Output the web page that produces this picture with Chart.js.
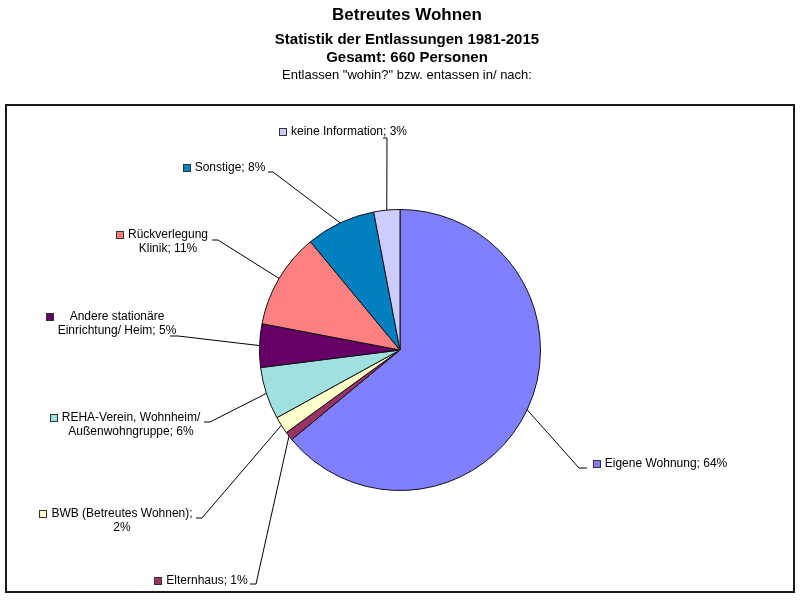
<!DOCTYPE html>
<html>
<head>
<meta charset="utf-8">
<script src="https://cdn.jsdelivr.net/npm/chart.js@4.4.1/dist/chart.umd.min.js"></script>
<style>
  body { margin: 0; background: #fff; }
  canvas { display: block; }
</style>
</head>
<body>
<canvas id="chart" width="802" height="600"></canvas>
<script>
// data (clockwise from 12 o'clock)
const categories = ['Eigene Wohnung', 'Elternhaus', 'BWB (Betreutes Wohnen)', 'REHA-Verein, Wohnheim/ Außenwohngruppe',
  'Andere stationäre Einrichtung/ Heim', 'Rückverlegung Klinik', 'Sonstige', 'keine Information'];
const shares = [64, 1, 2, 6, 5, 11, 8, 3];
const colours = ['#8080FF', '#993366', '#FFFFCC', '#A0E0E0', '#660066', '#FF8080', '#0080C0', '#CCCCFF'];

const titleLines = ['Betreutes Wohnen', 'Statistik der Entlassungen 1981-2015', 'Gesamt: 660 Personen',
  'Entlassen "wohin?" bzw. entassen in/ nach:'];

// where each slice label sits: centre x, first line y, words on first line, leader start + knee
const labelPos = [
  { cx: 666, y: 464, words: 0, start: [587, 468], knee: [579, 468] },
  { cx: 207, y: 581, words: 0, start: [250, 584], knee: [256, 584] },
  { cx: 122, y: 514, words: 3, start: [196, 518], knee: [202, 518] },
  { cx: 131, y: 418, words: 2, start: [204, 422], knee: [210, 422] },
  { cx: 117, y: 317, words: 2, start: [170, 336], knee: [178, 336] },
  { cx: 168, y: 235, words: 1, start: [212, 240], knee: [218, 240] },
  { cx: 230, y: 168, words: 0, start: [268, 172], knee: [273, 172] },
  { cx: 349, y: 132, words: 0, start: [383, 138], knee: [387, 138] }
];

function labelLines(i) {
  var full = categories[i] + '; ' + shares[i] + '%';
  var n = labelPos[i].words;
  if (!n) return [full];
  var parts = full.split(' ');
  return [parts.slice(0, n).join(' '), parts.slice(n).join(' ')];
}

const decor = {
  id: 'decor',
  afterDraw(chart) {
    const ctx = chart.ctx;
    ctx.save();

    // plot frame
    ctx.strokeStyle = '#1a1a1a';
    ctx.lineWidth = 2;
    ctx.strokeRect(6, 105, 788, 487);

    // titles
    ctx.fillStyle = '#000';
    ctx.textAlign = 'center';
    ctx.textBaseline = 'middle';
    ctx.font = 'bold 17px "Liberation Sans", Arial, sans-serif';
    ctx.fillText(titleLines[0], 407, 15);
    ctx.font = 'bold 15px "Liberation Sans", Arial, sans-serif';
    ctx.fillText(titleLines[1], 407, 40);
    ctx.fillText(titleLines[2], 407, 58);
    ctx.font = '13px "Liberation Sans", Arial, sans-serif';
    ctx.fillText(titleLines[3], 407, 75);

    // slice labels + leader lines
    const arcs = chart.getDatasetMeta(0).data;
    arcs.forEach(function (arc, i) {
      const p = labelPos[i];
      const mid = (arc.startAngle + arc.endAngle) / 2;
      const ex = arc.x + Math.cos(mid) * arc.outerRadius;
      const ey = arc.y + Math.sin(mid) * arc.outerRadius;

      ctx.strokeStyle = '#000';
      ctx.lineWidth = 1;
      ctx.beginPath();
      ctx.moveTo(p.start[0], p.start[1]);
      ctx.lineTo(p.knee[0], p.knee[1]);
      ctx.lineTo(ex, ey);
      ctx.stroke();

      const lines = labelLines(i);
      ctx.font = '12px "Liberation Sans", Arial, sans-serif';
      ctx.fillStyle = '#000';
      let minLeft = 9999;
      lines.forEach(function (t, k) {
        const w = ctx.measureText(t).width;
        minLeft = Math.min(minLeft, p.cx - w / 2);
        ctx.fillText(t, p.cx, p.y + k * 14);
      });

      // legend key square
      const sx = Math.round(minLeft - 12);
      const sy = Math.round(p.y - 4);
      ctx.fillStyle = colours[i];
      ctx.fillRect(sx, sy, 7, 7);
      ctx.strokeStyle = '#333';
      ctx.strokeRect(sx + 0.5, sy + 0.5, 7, 7);
    });

    ctx.restore();
  }
};

new Chart(document.getElementById('chart'), {
  type: 'pie',
  data: {
    labels: categories,
    datasets: [{
      data: shares,
      backgroundColor: colours,
      borderColor: '#111',
      borderWidth: 1
    }]
  },
  options: {
    responsive: false,
    animation: false,
    devicePixelRatio: 1,
    layout: { padding: { top: 209, bottom: 109, left: 259, right: 261 } },
    plugins: {
      legend: { display: false },
      tooltip: { enabled: false },
      title: { display: false }
    }
  },
  plugins: [decor]
});
</script>
</body>
</html>
